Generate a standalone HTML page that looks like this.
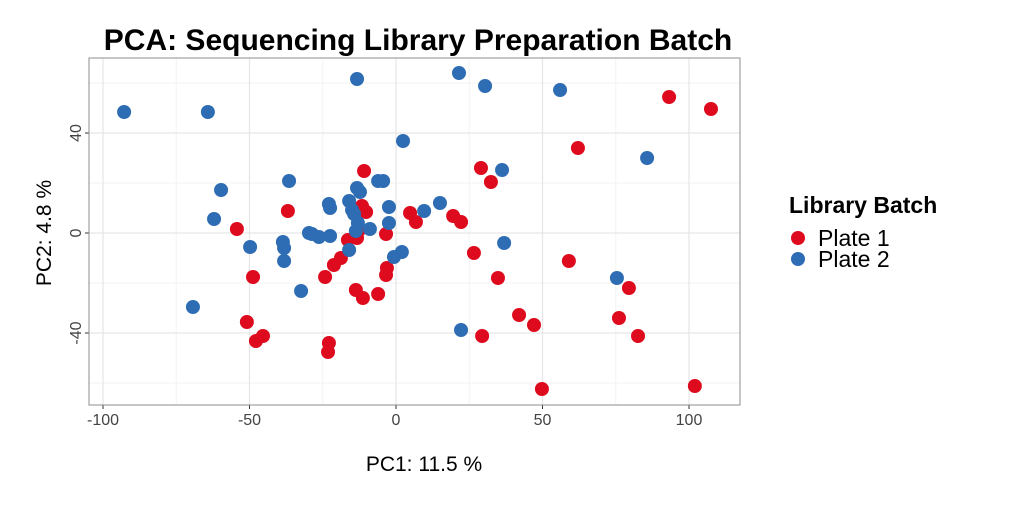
<!DOCTYPE html>
<html><head><meta charset="utf-8"><style>
body{margin:0;background:#fff;width:1024px;height:500px;overflow:hidden;font-family:"Liberation Sans",sans-serif}
</style></head><body>
<svg id="chart" width="1024" height="500" xmlns="http://www.w3.org/2000/svg">
<text x="418" y="50" text-anchor="middle" font-size="30" font-weight="bold" fill="#000">PCA: Sequencing Library Preparation Batch</text>
<g id="plot"></g>
<text x="424" y="471" text-anchor="middle" font-size="21" fill="#000">PC1: 11.5 %</text>
<text transform="translate(51,233) rotate(-90)" text-anchor="middle" font-size="21" fill="#000">PC2: 4.8 %</text>
<g>
<text x="789" y="213" font-size="23" font-weight="bold" fill="#000">Library Batch</text>
<circle cx="798" cy="238" r="7" fill="#DE0A1E"/>
<text x="818" y="246" font-size="23" fill="#000">Plate 1</text>
<circle cx="798" cy="259" r="7" fill="#2E6DB4"/>
<text x="818" y="267" font-size="23" fill="#000">Plate 2</text>
</g>
</svg>
<script>
const xTicks=[-100,-50,0,50,100];
const yTicks=[-40,0,40];
const xMinor=[-75,-25,25,75];
const yMinor=[-60,-20,20,60];
const plate1X=[93.2,107.5,62.1,29,32.4,-10.9,-36.9,-54.3,-48.8,-50.9,-47.8,-45.4,-22.9,-23.2,-24.2,-21.2,-18.8,-16.4,-13.3,-11.6,-10.2,-12.6,-13.7,-11.3,-6.1,-3.4,-3.1,-3.4,4.8,6.8,19.5,22.2,26.6,34.8,42,47.1,49.8,59,76.1,79.5,82.6,102,29.4];
const plate1Y=[54.4,49.6,34,26,20.4,24.8,8.8,1.6,-17.6,-35.6,-43.2,-41.2,-44,-47.6,-17.6,-12.8,-10,-2.8,-2,10.8,8.4,1.2,-22.8,-26,-24.4,-0.4,-14,-16.8,8,4.4,6.8,4.4,-8,-18,-32.8,-36.8,-62.4,-11.2,-34,-22,-41.2,-61.2,-41.2];
const plate2X=[-92.8,-64.2,-13.3,21.5,30.4,56,85.7,2.4,36.2,-59.7,-62.1,-36.5,-49.8,-38.6,-38.2,-38.2,-32.4,-69.3,-29.7,-28.7,-26.3,-22.5,-22.9,-22.5,-13.3,-12.3,-16,-15,-14.3,-13,-13.7,-8.9,-6.1,-4.4,-2.4,-2.4,-0.7,2,9.6,15,36.9,75.4,22.2,-16];
const plate2Y=[48.4,48.4,61.6,64,58.8,57.2,30,36.8,25.2,17.2,5.6,20.8,-5.6,-3.6,-11.2,-6,-23.2,-29.6,0,-0.4,-1.6,-1.2,11.6,10,18,16.4,12.8,9.2,7.6,4,0.8,1.6,20.8,20.8,10.4,4,-9.6,-7.6,8.8,12,-4,-18,-38.8,-6.8];

const L=89,R=740,T=58,B=405;
const sx=v=>396+v*2.93, sy=v=>233-v*2.5;
const NS="http://www.w3.org/2000/svg";
const g=document.getElementById('plot');
function mk(tag,attrs,parent){const e=document.createElementNS(NS,tag);for(const k in attrs)e.setAttribute(k,attrs[k]);(parent||g).appendChild(e);return e;}
mk('rect',{x:L,y:T,width:R-L,height:B-T,fill:'#fff'});
xMinor.forEach(v=>{const e=mk('line',{x1:sx(v),x2:sx(v),y1:T,y2:B,stroke:'#f3f3f3','stroke-width':1});

});
yMinor.forEach(v=>{if(sy(v)<T||sy(v)>B)return;const e=mk('line',{x1:L,x2:R,y1:sy(v),y2:sy(v),stroke:'#f3f3f3','stroke-width':1});

});
xTicks.forEach(v=>{const e=mk('line',{x1:sx(v),x2:sx(v),y1:T,y2:B,stroke:'#e6e6e6','stroke-width':1.2});


const tk=mk('line',{x1:sx(v),x2:sx(v),y1:B,y2:B+4,stroke:'#333'});


const t=mk('text',{x:sx(v),y:B+20,'text-anchor':'middle','font-size':16,fill:'#444'});t.textContent=v;

});
yTicks.forEach(v=>{const e=mk('line',{x1:L,x2:R,y1:sy(v),y2:sy(v),stroke:'#e6e6e6','stroke-width':1.2});


const tk=mk('line',{x1:L-4,x2:L,y1:sy(v),y2:sy(v),stroke:'#333'});


const t=mk('text',{transform:`translate(${L-8},${sy(v)}) rotate(-90)`,'text-anchor':'middle','font-size':16,fill:'#444'});t.textContent=v;

});
const border=mk('rect',{x:L,y:T,width:R-L,height:B-T,fill:'none',stroke:'#8c8c8c','stroke-width':1});


plate1X.forEach((x,i)=>{const c=mk('circle',{cx:sx(x),cy:sy(plate1Y[i]),r:7,fill:'#DE0A1E'});

});
plate2X.forEach((x,i)=>{const c=mk('circle',{cx:sx(x),cy:sy(plate2Y[i]),r:7,fill:'#2E6DB4'});

});
</script>
</body></html>
